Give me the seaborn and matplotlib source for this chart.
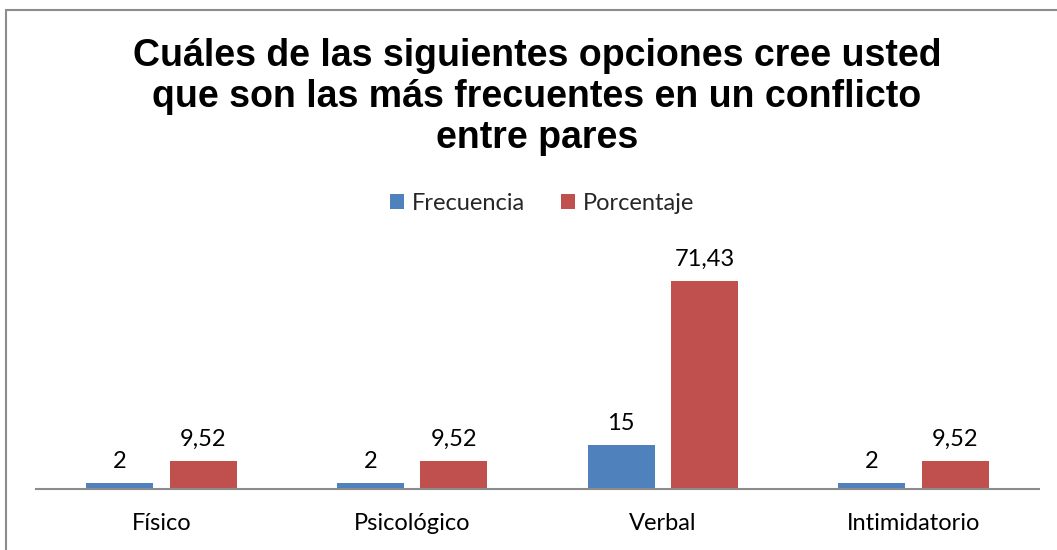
import matplotlib
matplotlib.use("Agg")
import matplotlib.pyplot as plt
from matplotlib.lines import Line2D
import seaborn as sns
import pandas as pd

categories = ["Físico", "Psicológico", "Verbal", "Intimidatorio"]
frecuencia = [2, 2, 15, 2]
porcentaje = [9.52, 9.52, 71.43, 9.52]
series_names = ["Frecuencia", "Porcentaje"]
title = "Cuáles de las siguientes opciones cree usted\nque son las más frecuentes en un conflicto\nentre pares"

df = pd.DataFrame({
    "cat": categories * 2,
    "serie": [series_names[0]] * 4 + [series_names[1]] * 4,
    "valor": frecuencia + porcentaje,
})

sns.set_theme(style="white")
plt.rcParams["font.family"] = ["Lato", "DejaVu Sans"]

W, H = 1057, 550
fig = plt.figure(figsize=(W / 100, H / 100), dpi=100)
ax = fig.add_axes([36 / W, 1 - 489 / H, (1039 - 36) / W, (489 - 230) / H])

palette = {"Frecuencia": "#4F81BD", "Porcentaje": "#C0504D"}
sns.barplot(data=df, x="cat", y="valor", hue="serie", order=categories,
            hue_order=series_names, palette=palette, width=0.667, gap=0.2,
            saturation=1, ax=ax, legend=True, edgecolor="none")

ax.set_ylim(0, (489 - 230) / 2.91)
ax.set_xlim(-0.5, 3.5)

def fmt(v):
    if float(v).is_integer():
        return str(int(v))
    return f"{v:.2f}".replace(".", ",")

for cont in ax.containers:
    ax.bar_label(cont, labels=[fmt(v) for v in cont.datavalues], padding=8,
                 fontsize=17, color="black")

for s in ["top", "right", "left"]:
    ax.spines[s].set_visible(False)
ax.spines["bottom"].set_color("#8C8C8C")
ax.spines["bottom"].set_linewidth(1.5)
ax.set_yticks([])
ax.set_xlabel("")
ax.set_ylabel("")
ax.tick_params(axis="x", length=0, pad=17.5, labelsize=17, colors="black")

leg = ax.legend(loc="center", bbox_to_anchor=(542 / W, 1 - 203 / H),
                bbox_transform=fig.transFigure, ncol=2, frameon=False,
                fontsize=17, handlelength=0.6, handleheight=0.6,
                handletextpad=0.35, columnspacing=1.5)

fig.text(537 / W, 1 - 97 / H, title, ha="center", va="center",
         fontsize=27, fontweight="bold", family="Liberation Sans",
         linespacing=1.19, color="black")

fig.add_artist(Line2D([6 / W, 6 / W], [0, 1 - 10 / H], transform=fig.transFigure,
                      color="#8C8C8C", lw=1.5))
fig.add_artist(Line2D([6 / W, 1], [1 - 10 / H, 1 - 10 / H], transform=fig.transFigure,
                      color="#8C8C8C", lw=1.5))

fig.savefig("out.png", dpi=100)
